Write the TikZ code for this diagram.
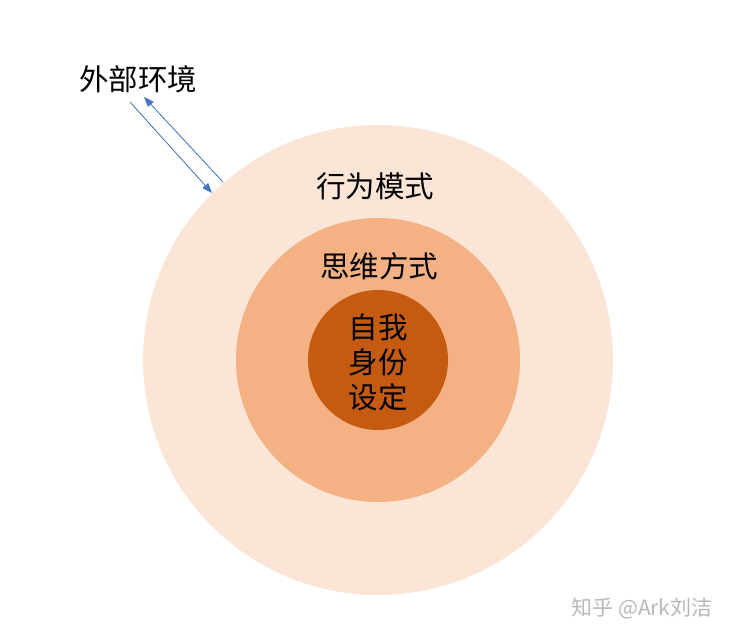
\documentclass[tikz,border=0pt]{standalone}
\usepackage{fontspec}
\newfontfamily\cjk{Noto Sans CJK SC}
\usetikzlibrary{shapes,arrows.meta,positioning}

\definecolor{ringouter}{HTML}{FBE5D6}
\definecolor{ringmid}{HTML}{F4B183}
\definecolor{ringinner}{HTML}{C55A11}
\definecolor{flowblue}{HTML}{4472C4}

\tikzset{
    ring/.style={circle, inner sep=0pt, draw=none},
    label text/.style={font=\cjk\fontsize{29.5}{35}\selectfont, align=center, inner sep=0pt},
    flow/.style={draw=flowblue, line width=0.8pt, -{Triangle[length=10pt,width=7.5pt]}, fill=flowblue}
}

\begin{document}
\begin{tikzpicture}[x=1pt,y=-1pt]
    \useasboundingbox (0,0) rectangle (735,641);

    %-----Rings-----
    % Behaviour ring
    \node [ring, fill=ringouter, minimum size=470pt] (behav) at (378,360) {};

    % Thinking ring
    \node [ring, fill=ringmid, minimum size=284pt] (think) at (behav) {};

    % Self core
    \node [ring, fill=ringinner, minimum size=140pt] (self) at (behav) {};

    %-----Labels-----
    % Self identity
    \node [label text] (selflbl) at (378,362) {自我\\身份\\设定};

    % Thinking mode
    \node [label text] (thinklbl) at (379,266) {思维方式};

    % Behaviour mode
    \node [label text] (behavlbl) at (375,186) {行为模式};

    % Environment
    \node [label text] (envlbl) at (138,79) {外部环境};

    %-----Arrows-----
    \coordinate (inStart) at (130,102);
    \coordinate (inEnd) at (212,193);
    \coordinate (outStart) at (223,182);
    \coordinate (outEnd) at (144,97);
    \draw [flow] (inStart) -- (inEnd);
    \draw [flow] (outStart) -- (outEnd);

    % Watermark
    \node [font=\cjk\fontsize{21}{21}\selectfont, text=black!28, inner sep=0pt] (mark) at (642,608) {知乎 @Ark刘洁};

\end{tikzpicture}
\end{document}
